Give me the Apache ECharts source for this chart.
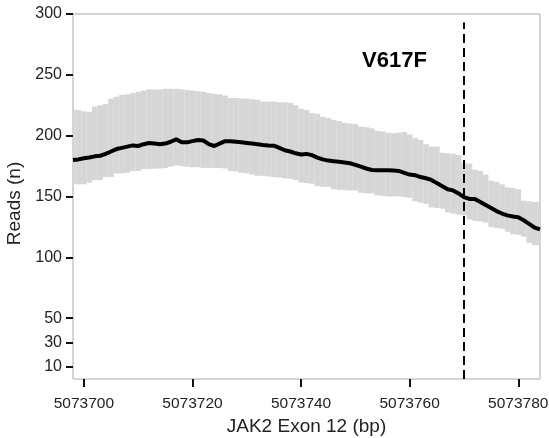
<!DOCTYPE html>
<html>
<head>
<meta charset="utf-8">
<script src="https://cdn.jsdelivr.net/npm/echarts@6/dist/echarts.min.js"></script>
<style>
  html, body { margin: 0; padding: 0; background: #fff; }
  #chart { width: 549px; height: 438px; }
</style>
</head>
<body>
<div id="chart"></div>
<script>
// positions 5073698 .. 5073784 (one per bp)
var startPos = 5073698;
var meanReads = [
  180, 180.5, 181.5, 182, 183, 183.5, 185, 187, 189, 190,
  191, 192, 191.5, 193, 194, 193.5, 193, 193.5, 195, 197,
  194.5, 194.5, 195.5, 196.5, 196, 193, 191.5, 193.5, 195.5, 195.5,
  195, 194.5, 194, 193.5, 193, 192.3, 192, 191.8, 190, 188,
  187, 185.5, 184.5, 185, 184, 182, 180.5, 179.5, 179, 178.5,
  178, 177.3, 176, 174.5, 173, 171.8, 171.5, 171.5, 171.5, 171.3,
  171, 169.5, 168, 167.5, 166, 165, 163.6, 161, 158.5, 156,
  155, 152.5, 149.5, 148, 148, 145.5, 143, 140.5, 138, 136,
  134.5, 133.5, 133, 130.5, 127.5, 124.5, 123
];
var upperReads = [
  221, 221, 220, 219.5, 224, 225, 226, 230.5, 232, 233.5,
  234, 235, 236, 237, 238, 238, 238, 238.5, 238.5, 238.5,
  238, 237.5, 237, 236.5, 236, 235, 234.5, 234, 233, 231,
  231, 230.5, 230.5, 230, 229.5, 228, 228, 228, 227.5, 227.5,
  227, 225, 222, 221, 218.5, 218, 215.5, 214.5, 213, 212,
  210.5, 210, 209.5, 207.5, 207, 206, 204, 203.5, 202.5, 202,
  202.5, 203, 201, 198, 196.5, 193, 191, 191, 186, 185.5,
  185, 184, 177.5, 177, 172, 171, 168, 163, 162, 160,
  157.5, 157, 156, 146.5, 146, 145.5, 145.5
];
var lowerReads = [
  160, 160, 160, 161.5, 163.5, 163.5, 166, 166, 169, 169,
  169.5, 171, 171, 172.5, 172.5, 172.8, 173, 173.5, 174.5, 175.5,
  175, 174.5, 174, 174, 173.5, 173.5, 173.5, 173.5, 173, 171,
  170.5, 169.5, 169, 168, 167, 167, 166.5, 166, 165.5, 165,
  164.5, 163.5, 161.5, 161, 160.5, 158.5, 158, 158, 156, 155.5,
  155.3, 155, 155, 153, 152.5, 152.5, 151, 150.5, 150, 150,
  150, 149.5, 149, 146, 145, 144, 141, 140.5, 140, 137,
  136, 135, 134.5, 131, 130, 129.5, 128.5, 125, 124, 123.5,
  121, 119, 118.5, 117, 112, 110, 110
];
var yTicks = [10, 30, 50, 100, 150, 200, 250, 300];
var xTicks = [5073700, 5073720, 5073740, 5073760, 5073780];
var mutationPos = 5073770;

var font = 'Liberation Sans, Arial, Helvetica, sans-serif';

var bandData = [], meanData = [];
for (var i = 0; i < meanReads.length; i++) {
  var p = startPos + i;
  bandData.push([p, lowerReads[i], upperReads[i]]);
  meanData.push([p, meanReads[i]]);
}

// one grey bar per base, from lower to upper
function renderBand(params, api) {
  var x = api.value(0);
  var lo = api.coord([x - 0.5, api.value(1)]);
  var hi = api.coord([x + 0.5, api.value(2)]);
  var rect = echarts.graphic.clipRectByRect({
    x: lo[0], y: hi[1], width: hi[0] - lo[0] + 0.1, height: lo[1] - hi[1]
  }, {
    x: params.coordSys.x, y: params.coordSys.y,
    width: params.coordSys.width, height: params.coordSys.height
  });
  return rect && {
    type: 'rect',
    shape: rect,
    style: { fill: '#d6d6d6' }
  };
}

var myChart = echarts.init(document.getElementById('chart'));
var option = {
  animation: false,
  grid: {
    left: 73, right: 9, top: 14, bottom: 59,
    outerBoundsMode: 'none',
    show: true, borderColor: '#a8a8a8', borderWidth: 1
  },
  xAxis: {
    type: 'value',
    min: 5073698,
    max: 5073784,
    name: 'JAK2 Exon 12 (bp)',
    nameLocation: 'middle',
    nameGap: 38,
    nameTextStyle: { fontFamily: font, fontSize: 19, color: '#222', verticalAlign: 'top' },
    axisLine: { show: false },
    splitLine: { show: false },
    axisTick: { show: true, length: 8, lineStyle: { color: '#111', width: 2 }, customValues: xTicks },
    axisLabel: {
      customValues: xTicks,
      margin: 17,
      fontFamily: font, fontSize: 15.5, color: '#222',
      formatter: function (v) { return String(v); }
    }
  },
  yAxis: {
    type: 'value',
    min: 0,
    max: 300,
    name: 'Reads (n)',
    nameLocation: 'middle',
    nameGap: 43,
    nameTextStyle: { fontFamily: font, fontSize: 19, color: '#222', padding: [0, 14, 0, 0] },
    axisLine: { show: false },
    splitLine: { show: false },
    axisTick: { show: true, length: 7, lineStyle: { color: '#111', width: 2 }, customValues: yTicks },
    axisLabel: {
      customValues: yTicks,
      margin: 11,
      fontFamily: font, fontSize: 16, color: '#222'
    }
  },
  series: [
    {
      name: 'range',
      type: 'custom',
      renderItem: renderBand,
      data: bandData,
      encode: { x: 0, y: [1, 2] },
      silent: true,
      z: 1
    },
    {
      name: 'mean',
      type: 'line',
      data: meanData,
      symbol: 'none',
      lineStyle: { color: '#000', width: 4 },
      z: 5,
      markLine: {
        silent: true,
        symbol: 'none',
        label: { show: false },
        lineStyle: { color: '#000', width: 2, type: [9, 5] },
        data: [[{ coord: [mutationPos, 0] }, { coord: [mutationPos, 293] }]]
      }
    }
  ],
  graphic: [
    {
      type: 'text',
      left: 362,
      top: 50,
      style: {
        text: 'V617F',
        fontFamily: font,
        fontWeight: 'bold',
        fontSize: 22,
        fill: '#000'
      }
    }
  ]
};
myChart.setOption(option);
</script>
</body>
</html>
